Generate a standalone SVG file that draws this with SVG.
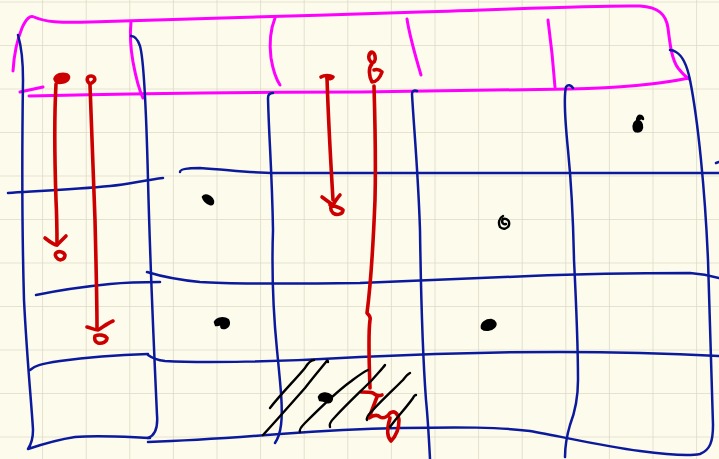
<svg xmlns="http://www.w3.org/2000/svg" width="719" height="459" viewBox="0 0 719 459">
<defs>
<pattern id="grid" x="-1.5" y="1.5" width="43.6" height="43.5" patternUnits="userSpaceOnUse">
<path d="M0 0 H43.6 M0 0 V43.5" fill="none" stroke="#dedac8" stroke-width="1.6"/>
</pattern>
<style>
path{fill:none;stroke-linecap:round;stroke-linejoin:round}
.mag{stroke:#ff00ff;stroke-width:3}
.blue{stroke:#0b1a9c;stroke-width:2.5}
.red{stroke:#cc0000;stroke-width:3.6}
.redfill{fill:#cc0000}
.blk{stroke:#000;stroke-width:2.4}
.dot{fill:#000;stroke:#000;stroke-width:2.5}
</style>
</defs>
<rect width="719" height="459" fill="#fdfbec"/>
<rect width="719" height="459" fill="url(#grid)"/>

<g id="header">
<path class="mag" d="M13 71 C14 55 17 40 22 28 C26 19 30 15 34 17 C45 22 60 23 90 22 C150 20 300 16 420 12 C520 9 600 5 640 6 C658 7 666 14 668 28 C670 45 672 60 678 68 C682 73 686 77 689 79"/>
<path class="mag" d="M29 96 C120 94 250 92 360 92 C450 91 520 90 570 89 C620 88 660 84 689 78"/>
<path class="mag" d="M20 92 L43 87"/>
<path class="mag" d="M131 22 C130 32 130 45 133 62 C136 78 139 90 143 98"/>
<path class="mag" d="M275 18 C271 28 269 42 271 58 C273 70 276 79 280 85"/>
<path class="mag" d="M407 19 C409 32 413 48 421 75"/>
<path class="mag" d="M548 20 C550 35 553 60 555 87"/>
</g>

<g id="grid-lines">
<path class="blue" d="M18 35 C21 45 23 55 23 80 C22 150 22 230 24 300 C27 360 32 410 33 430 C33 440 30 446 28 449 C40 445 55 440 75 437 C100 435 125 437 150 438"/>
<path class="blue" d="M131 36 C135 36 138 40 140 46 C144 60 146 100 148 180 C150 260 154 350 157 415 C158 427 156 435 148 438"/>
<path class="blue" d="M8 193 C40 191 80 189 110 186 C130 184 145 180 163 178"/>
<path class="blue" d="M36 295 C60 290 90 286 110 284 C130 282 145 282 160 282"/>
<path class="blue" d="M30 370 C34 366 40 364 60 361 C90 357 120 355 148 354"/>

<path class="blue" d="M180 172 C180 170 183 168 200 168 C230 170 250 173 275 173 C400 174 550 173 719 173"/>
<path class="blue" d="M147 272 C160 276 180 280 200 282 C230 284 280 284 360 283 C420 280 480 278 530 276 C600 273 650 273 690 273 C705 274 712 276 719 278"/>
<path class="blue" d="M148 355 C152 358 156 360 165 361 C200 363 280 362 360 357 C420 354 480 352 560 352 C620 352 680 354 719 356"/>
<path class="blue" d="M148 442 C180 441 230 438 280 434 C320 431 350 429 400 428 C460 427 500 427 530 431 C560 436 600 446 640 451 C670 455 690 456 700 454 C710 450 713 442 713 425 C712 380 710 320 708 260 C705 190 698 120 690 80 C687 65 683 56 676 52 C673 50 671 50 670 50"/>
<path class="blue" d="M273 93 C270 93 268 94 268 98 C269 140 272 170 273 230 C272 260 272 300 277 350 C281 390 283 410 281 425 C280 433 277 440 275 443"/>
<path class="blue" d="M417 91 C414 90 412 91 412 94 C414 130 418 170 420 230 C421 300 423 360 426 400 C428 420 429 440 430 459"/>
<path class="blue" d="M573 88 C571 85 568 84 566 87 C564 95 565 120 568 150 C571 180 573 210 574 260 C576 300 578 340 578 380 C578 400 575 412 570 425 C567 435 565 445 565 457"/>
<path class="blue" d="M716 163 L719 162"/>
</g>

<g id="arrows">
<path class="red" d="M56 84 C54 120 55 170 56 200 C57 220 57 235 57 245"/>
<path class="red redfill" d="M55 79 C56 75 62 73 67 75 C70 77 68 81 63 82 C59 83 56 82 55 79 Z"/>
<path class="red" d="M45 238 C50 242 54 245 57 245 C60 242 63 239 66 236"/>
<path class="red" d="M56 253 C58 251 63 251 65 255 C65 259 61 261 58 259 C55 257 55 254 56 253"/>

<path class="red" d="M90 85 C91 120 93 170 95 220 C96 260 97 300 97 328"/>
<path class="red" d="M89 83 C86 80 87 76 91 76 C95 76 96 80 93 82 C92 83 90 84 89 83"/>
<path class="red" d="M87 327 C91 328 95 330 98 330 C103 327 108 323 113 321"/>
<path class="red" d="M95 336 C99 334 105 335 107 338 C107 342 102 344 98 343 C95 342 94 339 95 336"/>

<path class="red" d="M327 78 C328 110 330 150 333 200"/>
<path class="red" d="M321 77 C324 75 330 75 333 77 C332 79 329 79 327 78"/>
<path class="red" d="M322 197 C326 200 330 203 333 205 C336 200 338 197 340 195"/>
<path class="red" d="M330 205 C334 206 340 207 343 210 C343 214 337 216 333 213 C330 210 330 206 333 205"/>

<path class="red" d="M374 86 C375 120 376 160 375 200 C373 250 370 290 367 313 C369 315 371 317 370 320 C368 335 369 360 370 388"/>
<path class="red" d="M371 53 C368 55 368 59 371 62 C374 64 376 60 375 56 C374 52 371 50 369 55 M372 64 C368 68 369 76 372 82 C376 82 380 78 382 72 C380 70 377 69 374 70"/>
<path class="red" d="M361 392 C366 392 370 392 373 393 C376 395 378 397 382 395 M377 397 C375 402 372 410 369 418 C372 416 377 414 380 417 C384 419 388 416 390 413 C394 410 398 413 399 420 C399 428 396 436 391 441 C387 437 387 428 390 418"/>
</g>

<g id="hatch">
<path class="blk" d="M270 408 C280 395 295 380 305 368 C308 363 311 360 314 360"/>
<path class="blk" d="M263 435 C275 422 290 405 305 388 C315 375 322 367 326 362 C327 360 328 360 328 362"/>
<path class="blk" d="M300 432 C299 430 301 427 305 423 C320 408 335 393 350 382 C358 376 363 372 368 370"/>
<path class="blk" d="M330 427 C329 425 331 421 335 417 C348 403 360 392 372 380 C378 373 383 368 385 365"/>
<path class="blk" d="M367 420 C366 418 368 415 372 411 C382 400 393 390 403 380 C406 376 408 374 410 373"/>
<path class="blk" d="M390 427 C398 416 406 408 413 398 C414 396 415 395 416 395"/>
</g>

<g id="marks">
<path class="dot" d="M203 197 C205 194 210 196 212 199 C214 202 213 205 210 204 C207 203 204 200 203 197 Z"/>
<path class="dot" d="M215 322 C217 318 224 317 228 320 C230 324 228 328 223 328 C221 328 221 326 222 324 C220 324 218 325 216 325 Z"/>
<path class="blk" d="M503 216 C499 218 498 223 500 227 C503 230 508 229 509 225 C510 221 507 218 503 219 C501 222 503 225 506 224" stroke-width="3.6"/>
<path class="dot" d="M482 328 C481 323 486 320 491 320 C495 321 497 324 494 327 C491 330 485 331 482 328 Z"/>
<path class="dot" d="M634 129 C633 124 635 121 638 121 C642 122 643 127 641 130 C639 132 635 132 634 129 Z M637 121 C637 117 639 115 641 116 C642 116 643 118 643 119"/>
<path class="dot" d="M319 397 C321 393 327 392 331 396 C333 399 331 403 327 402 C325 401 323 400 320 400 Z"/>
</g>
</svg>
